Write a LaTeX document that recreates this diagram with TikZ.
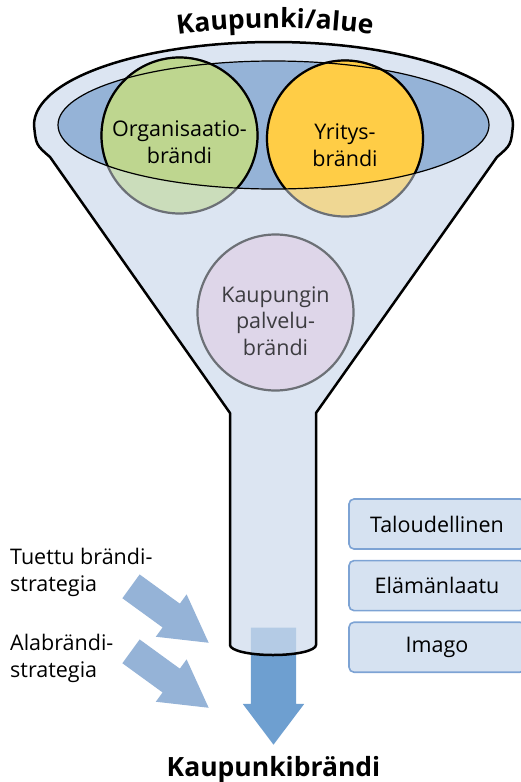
\documentclass[tikz,border=0pt]{standalone}
\usepackage{fontspec}
\setmainfont{Open Sans}
\usetikzlibrary{shapes.arrows, positioning, decorations.text}

\definecolor{funnelFill}{RGB}{207,220,237}
\definecolor{innerBlue}{RGB}{149,179,215}
\definecolor{orgGreen}{RGB}{190,214,143}
\definecolor{firmYellow}{RGB}{255,205,70}
\definecolor{serviceLilac}{RGB}{222,214,233}
\definecolor{rimGray}{RGB}{108,112,118}
\definecolor{textGray}{RGB}{60,60,64}
\definecolor{arrowBlue}{RGB}{149,179,215}
\definecolor{outBlue}{RGB}{110,159,208}
\definecolor{boxFill}{RGB}{214,226,241}
\definecolor{boxLine}{RGB}{125,163,212}

\begin{document}
\begin{tikzpicture}[
	  x=1pt, y=-1pt,
	  every node/.style={font=\fontsize{21.5}{26.5}\selectfont},
	  brandcircle/.style={circle, minimum size=156pt, inner sep=0pt, draw=black, line width=2.2pt},
	  fadedcircle/.style={draw=rimGray, line width=2.2pt, fill opacity=0.55},
	  circletext/.style={align=center, inner sep=0pt},
	  fatarrow/.style={single arrow, fill=arrowBlue, minimum height=96pt, minimum width=52pt, inner xsep=0pt, inner ysep=14.5pt, single arrow head extend=11.5pt, single arrow tip angle=59},
	  outarrow/.style={single arrow, fill=outBlue, minimum height=117pt, minimum width=61pt, inner xsep=0pt, inner ysep=22.5pt, single arrow head extend=8pt, single arrow tip angle=74},
	  factorbox/.style={rectangle, rounded corners=5pt, draw=boxLine, line width=1.6pt, fill=boxFill, minimum width=176pt, minimum height=50pt},
	  sidelabel/.style={align=left, inner sep=0pt},
	  title/.style={font=\fontsize{26.5}{30}\selectfont\bfseries}
	]
	\useasboundingbox (0,0) rectangle (520,782);

	% output arrow sits behind the funnel neck
	\node (ulos) [outarrow, rotate=-90, anchor=tip] at (273.5,745) {};

	% funnel
	\draw [line width=2.5pt, fill=funnelFill, fill opacity=0.73, line join=round]
	  (34,125) arc[start angle=180, end angle=360, x radius=239.5, y radius=83]
	  .. controls (511,145) .. (497,157)
	  -- (316,413) -- (316,645)
	  arc[start angle=0, end angle=180, x radius=43, y radius=10]
	  -- (230,413) -- (50,157)
	  .. controls (36,145) .. (34,125) -- cycle;
	\fill [innerBlue] (273.5,125) ellipse[x radius=215.5, y radius=64];

	\draw [fadedcircle, fill=orgGreen] (179.5,135.5) circle[radius=78];
	\draw [fadedcircle, fill=firmYellow] (345,138.5) circle[radius=78];
	\begin{scope}
	  \clip (58,125) arc[start angle=180, end angle=0, x radius=215.5, y radius=64] -- (489,0) -- (58,0) -- cycle;
	  \node (org) [brandcircle, fill=orgGreen] at (179.5,135.5) {};
	  \node (yritys) [brandcircle, fill=firmYellow] at (345,138.5) {};
	\end{scope}
	\draw [line width=1.2pt] (273.5,125) ellipse[x radius=215.5, y radius=64];

	\node (palvelu) [brandcircle, draw=rimGray, fill=serviceLilac] at (275.5,312.5) {};

	\node (orgtxt) [circletext] at (179.5,142) {Organisaatio-\\brändi};
	\node (yritystxt) [circletext] at (345,145) {Yritys-\\brändi};
	\node (palvelutxt) [circletext, text=textGray] at (275.5,321) {Kaupungin\\palvelu-\\brändi};

	\path [decorate, decoration={text along path, text align=center,
	  text={|\fontsize{26.5}{30}\selectfont\bfseries|Kaupunki/alue}}]
	  (160,37) .. controls (230,25) and (320,25) .. (390,37);

	% strategies
	\node (tuettuNuoli) [fatarrow, rotate=-36, anchor=tip] at (209,643) {};
	\node (alaNuoli) [fatarrow, rotate=-36, anchor=tip] at (209,708) {};
	\node (tuettu) [sidelabel, anchor=north west] at (10,548) {Tuettu brändi-\\strategia};
	\node (ala) [sidelabel, anchor=north west] at (10,634) {Alabrändi-\\strategia};

	% factors
	\node (talous) [factorbox] at (437,524) {Taloudellinen};
	\node (elama) [factorbox, below=10pt of talous] {Elämänlaatu};
	\node (imago) [factorbox, below=10pt of elama] {Imago};

	\node (kaupunkibrandi) [title, anchor=base] at (273.5,776) {Kaupunkibrändi};

	\end{tikzpicture}
\end{document}
